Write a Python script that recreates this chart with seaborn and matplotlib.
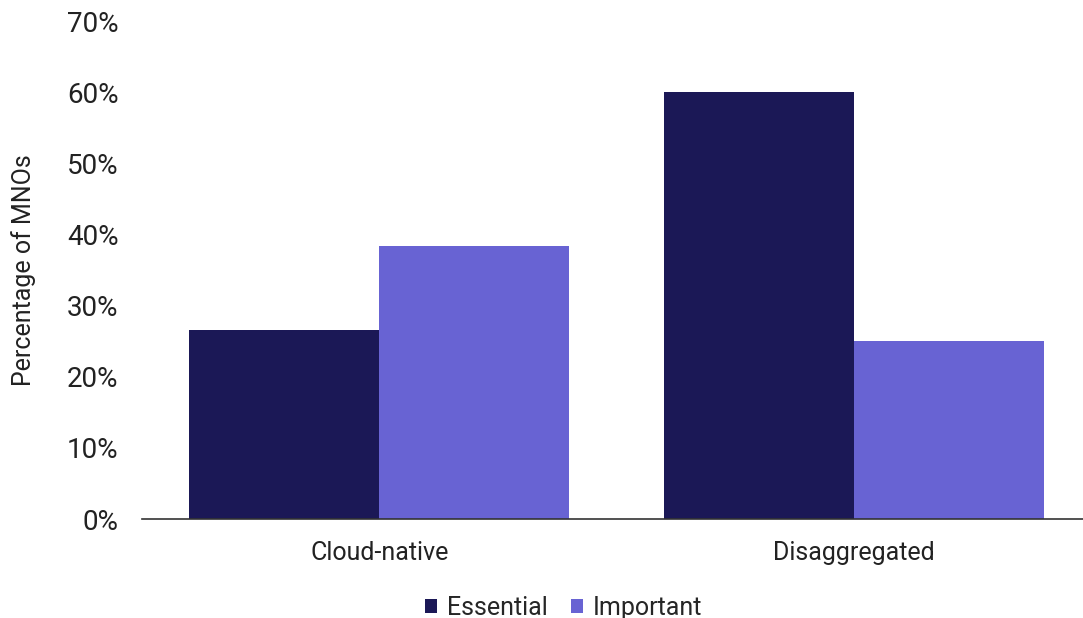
import pandas as pd
import matplotlib.pyplot as plt
import seaborn as sns
from matplotlib.ticker import PercentFormatter

# Data
categories = ['Cloud-native', 'Disaggregated']
essential = [26.6, 60.0]
important = [38.4, 25.0]
series = ['Essential', 'Important']
colors = ['#1B1856', '#6863D3']

df = pd.DataFrame({
    'Category': categories * 2,
    'Series': [series[0]] * 2 + [series[1]] * 2,
    'Value': essential + important,
})

sns.set_style("white")
plt.rcParams['font.family'] = ['Roboto', 'DejaVu Sans']

fig = plt.figure(figsize=(10.83, 6.18), dpi=100)
ax = fig.add_axes([142 / 1083, 99 / 618, 1 - 142 / 1083, 498 / 618])

sns.barplot(data=df, x='Category', y='Value', hue='Series',
            palette=colors, width=0.8, saturation=1, linewidth=0,
            ax=ax, legend=True)

ax.set_xlim(-0.5, 1.482)
ax.set_ylim(0, 70)
ax.set_yticks(range(0, 71, 10))
ax.yaxis.set_major_formatter(PercentFormatter(decimals=0))
ax.tick_params(axis='y', length=0, labelsize=20, pad=17, colors='#222222')
ax.tick_params(axis='x', length=0, labelsize=18, pad=16, colors='#222222')
ax.set_xlabel('')
ax.set_ylabel('Percentage of MNOs', fontsize=18, color='#222222')
ax.yaxis.set_label_coords(-106 / 941, 0.5)

for s in ['top', 'right', 'left']:
    ax.spines[s].set_visible(False)
ax.spines['bottom'].set_color('#333333')
ax.spines['bottom'].set_linewidth(1.2)

ax.legend(title=None, loc='lower center', bbox_to_anchor=(0.448, -0.247),
          ncol=2, frameon=False, fontsize=18, handlelength=0.5,
          handleheight=0.5, handletextpad=0.4, columnspacing=0.9)

fig.savefig('out.png', dpi=100)
